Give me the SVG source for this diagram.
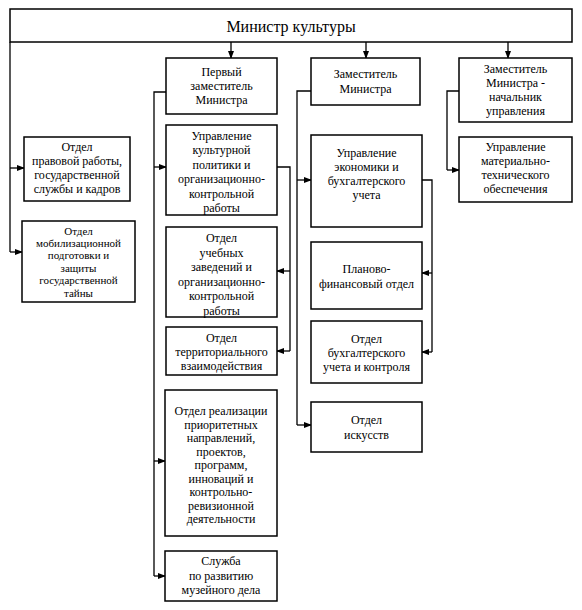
<svg xmlns="http://www.w3.org/2000/svg" width="582" height="610" viewBox="0 0 582 610">
<style>
.box{fill:#fff;stroke:#000;stroke-width:1.5}
.t{font-family:"Liberation Serif","DejaVu Serif","Times New Roman",serif;font-size:12px;fill:#000;text-anchor:middle}
.title{font-size:16px}
.sm{font-size:11px}
.ln{fill:none;stroke:#000;stroke-width:1.3}
.ar{fill:none;stroke:#000;stroke-width:1.3;marker-end:url(#ah)}
</style>
<defs>
<marker id="ah" markerWidth="8" markerHeight="6" refX="7" refY="3" orient="auto" markerUnits="userSpaceOnUse">
<path d="M0,0 L8,3 L0,6 Z" fill="#000"/>
</marker>
</defs>
<rect width="582" height="610" fill="#fff"/>
<g id="connectors">
<path class="ln" d="M10,42 V252"/>
<path class="ar" d="M10,168 H24"/>
<path class="ar" d="M10,252 H22"/>
<path class="ar" d="M231,42 V58"/>
<path class="ar" d="M366,42 V58"/>
<path class="ar" d="M508,42 V58"/>
<path class="ln" d="M166,92 H154 V576"/>
<path class="ar" d="M154,167 H166"/>
<path class="ar" d="M154,461 H165"/>
<path class="ar" d="M154,576 H165"/>
<path class="ln" d="M277,167 H290 V351"/>
<path class="ar" d="M290,271 H277"/>
<path class="ar" d="M290,351 H277"/>
<path class="ln" d="M311,91 H297 V425"/>
<path class="ar" d="M297,180 H311"/>
<path class="ar" d="M297,425 H311"/>
<path class="ln" d="M422,180 H432 V352"/>
<path class="ar" d="M432,273 H422"/>
<path class="ar" d="M432,352 H422"/>
<path class="ln" d="M459,91 H447 V170"/>
<path class="ar" d="M447,170 H459"/>
</g>
<g id="minister"><rect class="box" x="10" y="9" width="562" height="33"/>
<text class="t title" x="291" y="32">Министр культуры</text></g>
<g id="first-deputy"><rect class="box" x="166" y="58" width="111" height="56"/>
<text class="t" x="221.5" y="76">Первый<tspan x="221.5" dy="14">заместитель</tspan><tspan x="221.5" dy="14">Министра</tspan></text></g>
<g id="deputy"><rect class="box" x="311" y="58" width="109" height="47"/>
<text class="t" x="365.5" y="78">Заместитель<tspan x="365.5" dy="14.5">Министра</tspan></text></g>
<g id="deputy-head"><rect class="box" x="459" y="58" width="113" height="64"/>
<text class="t" x="515.5" y="73">Заместитель<tspan x="515.5" dy="14">Министра -</tspan><tspan x="515.5" dy="14">начальник</tspan><tspan x="515.5" dy="14">управления</tspan></text></g>
<g id="legal"><rect class="box" x="24" y="137" width="106" height="64"/>
<text class="t" x="77" y="151">Отдел<tspan x="77" dy="14">правовой работы,</tspan><tspan x="77" dy="14">государственной</tspan><tspan x="77" dy="14">службы и кадров</tspan></text></g>
<g id="mobilization"><rect class="box" x="22" y="221" width="113" height="81"/>
<text class="t sm" x="78.5" y="234.5">Отдел<tspan x="78.5" dy="12.4">мобилизационной</tspan><tspan x="78.5" dy="12.4">подготовки и</tspan><tspan x="78.5" dy="12.4">защиты</tspan><tspan x="78.5" dy="12.4">государственной</tspan><tspan x="78.5" dy="12.4">тайны</tspan></text></g>
<g id="culture-policy"><rect class="box" x="166" y="125" width="111" height="90"/>
<text class="t" x="221.5" y="140">Управление<tspan x="221.5" dy="14.4">культурной</tspan><tspan x="221.5" dy="14.4">политики и</tspan><tspan x="221.5" dy="14.4">организационно-</tspan><tspan x="221.5" dy="14.4">контрольной</tspan><tspan x="221.5" dy="14.4">работы</tspan></text></g>
<g id="education"><rect class="box" x="166" y="227" width="111" height="90"/>
<text class="t" x="221.5" y="242">Отдел<tspan x="221.5" dy="14.5">учебных</tspan><tspan x="221.5" dy="14.5">заведений и</tspan><tspan x="221.5" dy="14.5">организационно-</tspan><tspan x="221.5" dy="14.5">контрольной</tspan><tspan x="221.5" dy="14.5">работы</tspan></text></g>
<g id="territorial"><rect class="box" x="166" y="327" width="111" height="48"/>
<text class="t" x="221.5" y="342">Отдел<tspan x="221.5" dy="14">территориального</tspan><tspan x="221.5" dy="14">взаимодействия</tspan></text></g>
<g id="priorities"><rect class="box" x="165" y="390" width="112" height="146"/>
<text class="t" x="221" y="415">Отдел реализации<tspan x="221" dy="13.5">приоритетных</tspan><tspan x="221" dy="13.5">направлений,</tspan><tspan x="221" dy="13.5">проектов,</tspan><tspan x="221" dy="13.5">программ,</tspan><tspan x="221" dy="13.5">инноваций и</tspan><tspan x="221" dy="13.5">контрольно-</tspan><tspan x="221" dy="13.5">ревизионной</tspan><tspan x="221" dy="13.5">деятельности</tspan></text></g>
<g id="museum"><rect class="box" x="165" y="551" width="112" height="50"/>
<text class="t" x="221" y="565">Служба<tspan x="221" dy="14.5">по развитию</tspan><tspan x="221" dy="14.5">музейного дела</tspan></text></g>
<g id="economics"><rect class="box" x="311" y="135" width="111" height="92"/>
<text class="t" x="366.5" y="157">Управление<tspan x="366.5" dy="14">экономики и</tspan><tspan x="366.5" dy="14">бухгалтерского</tspan><tspan x="366.5" dy="14">учета</tspan></text></g>
<g id="planning"><rect class="box" x="311" y="242" width="111" height="67"/>
<text class="t" x="366.5" y="273">Планово-<tspan x="366.5" dy="14.5">финансовый отдел</tspan></text></g>
<g id="accounting"><rect class="box" x="311" y="321" width="111" height="62"/>
<text class="t" x="366.5" y="343">Отдел<tspan x="366.5" dy="14">бухгалтерского</tspan><tspan x="366.5" dy="14">учета и контроля</tspan></text></g>
<g id="arts"><rect class="box" x="311" y="402" width="111" height="50"/>
<text class="t" x="366.5" y="424">Отдел<tspan x="366.5" dy="15">искусств</tspan></text></g>
<g id="logistics"><rect class="box" x="459" y="137" width="113" height="65"/>
<text class="t" x="515.5" y="151">Управление<tspan x="515.5" dy="14">материально-</tspan><tspan x="515.5" dy="14">технического</tspan><tspan x="515.5" dy="14">обеспечения</tspan></text></g>
</svg>
